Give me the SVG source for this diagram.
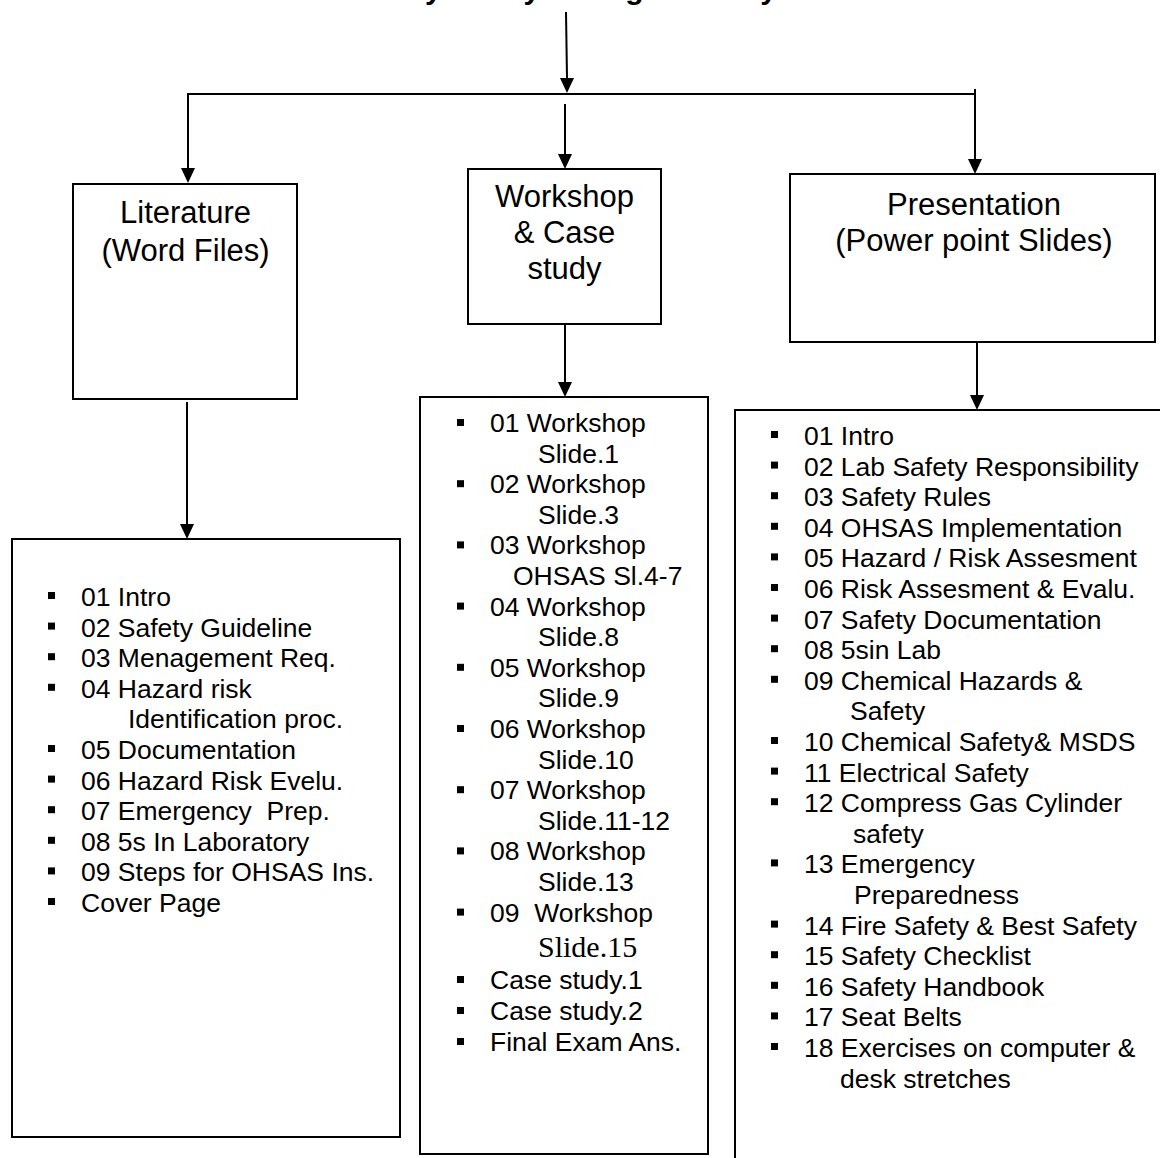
<svg xmlns="http://www.w3.org/2000/svg" width="1160" height="1158" viewBox="0 0 1160 1158">
<style>
.box{fill:#fff;stroke:#000;stroke-width:2}
.con{fill:none;stroke:#000;stroke-width:2}
.hd{font-family:"Liberation Sans",Arial,sans-serif;font-size:31px;text-anchor:middle;fill:#000}
.li{font-family:"Liberation Sans",Arial,sans-serif;font-size:26.5px;fill:#000;white-space:pre}
.tm{font-family:"Liberation Serif","Times New Roman",serif;font-size:30px;fill:#000}
.ttl{font-family:"Liberation Sans",Arial,sans-serif;font-size:30px;font-weight:bold;text-anchor:middle;fill:#000}
.bl{fill:#000}
</style>
<defs>
<marker id="ah" markerWidth="14" markerHeight="15" refX="7" refY="15" orient="auto-start-reverse" markerUnits="userSpaceOnUse" viewBox="0 0 14 15">
<path d="M0,0 L14,0 L7,15 Z" fill="#000" transform="rotate(0)"/>
</marker>
</defs>
<rect width="1160" height="1158" fill="#fff"/>
<text class="ttl" x="566" y="-1">Laboratory Safety Management System</text>

<g id="connectors">
<path class="con" d="M566,12 L567,78"/>
<path d="M560,78 L574,78 L567,93 Z" fill="#000"/>
<path class="con" d="M188,94 L975,94"/>
<path class="con" d="M975,89 L975,160"/>
<path d="M968,159 L982,159 L975,174 Z" fill="#000"/>
<path class="con" d="M188,93 L188,169"/>
<path d="M181,168 L195,168 L188,183 Z" fill="#000"/>
<path class="con" d="M565,104 L565,155"/>
<path d="M558,154 L572,154 L565,169 Z" fill="#000"/>
<path class="con" d="M187,402 L187,525"/>
<path d="M180,524 L194,524 L187,539 Z" fill="#000"/>
<path class="con" d="M565,325 L565,383"/>
<path d="M558,382 L572,382 L565,397 Z" fill="#000"/>
<path class="con" d="M977,343 L977,396"/>
<path d="M970,395 L984,395 L977,410 Z" fill="#000"/>
</g>

<g id="literature">
<rect class="box" x="73" y="184" width="224" height="215"/>
<text class="hd" x="185.5" y="223">Literature</text>
<text class="hd" x="185.5" y="261">(Word Files)</text>
</g>

<g id="workshop">
<rect class="box" x="468" y="169" width="193" height="155"/>
<text class="hd" x="564.5" y="207">Workshop</text>
<text class="hd" x="564.5" y="243">&amp; Case</text>
<text class="hd" x="564.5" y="279">study</text>
</g>

<g id="presentation">
<rect class="box" x="790" y="174" width="365" height="168"/>
<text class="hd" x="974" y="215">Presentation</text>
<text class="hd" x="974" y="251">(Power point Slides)</text>
</g>

<g id="literature-list">
<rect class="box" x="12" y="539" width="388" height="598"/>
<g class="bl">
<rect x="48" y="592" width="7" height="7"/>
<rect x="48" y="622.6" width="7" height="7"/>
<rect x="48" y="653.2" width="7" height="7"/>
<rect x="48" y="683.8" width="7" height="7"/>
<rect x="48" y="745" width="7" height="7"/>
<rect x="48" y="775.6" width="7" height="7"/>
<rect x="48" y="806.2" width="7" height="7"/>
<rect x="48" y="836.8" width="7" height="7"/>
<rect x="48" y="867.4" width="7" height="7"/>
<rect x="48" y="898" width="7" height="7"/>
</g>
<text class="li" x="81" y="606">01 Intro</text>
<text class="li" x="81" y="636.6">02 Safety Guideline</text>
<text class="li" x="81" y="667.2">03 Menagement Req.</text>
<text class="li" x="81" y="697.8">04 Hazard risk</text>
<text class="li" x="128" y="728.4">Identification proc.</text>
<text class="li" x="81" y="759">05 Documentation</text>
<text class="li" x="81" y="789.6">06 Hazard Risk Evelu.</text>
<text class="li" x="81" y="820.2" xml:space="preserve">07 Emergency  Prep.</text>
<text class="li" x="81" y="850.8">08 5s In Laboratory</text>
<text class="li" x="81" y="881.4">09 Steps for OHSAS Ins.</text>
<text class="li" x="81" y="912">Cover Page</text>
</g>

<g id="workshop-list">
<rect class="box" x="420" y="397" width="288" height="757"/>
<g class="bl">
<rect x="457" y="419" width="7" height="7"/>
<rect x="457" y="480.2" width="7" height="7"/>
<rect x="457" y="541.4" width="7" height="7"/>
<rect x="457" y="602.6" width="7" height="7"/>
<rect x="457" y="663.8" width="7" height="7"/>
<rect x="457" y="725" width="7" height="7"/>
<rect x="457" y="786.2" width="7" height="7"/>
<rect x="457" y="847.4" width="7" height="7"/>
<rect x="457" y="908.6" width="7" height="7"/>
<rect x="457" y="976" width="7" height="7"/>
<rect x="457" y="1007" width="7" height="7"/>
<rect x="457" y="1038" width="7" height="7"/>
</g>
<text class="li" x="490" y="432">01 Workshop</text>
<text class="li" x="538" y="462.6">Slide.1</text>
<text class="li" x="490" y="493.2">02 Workshop</text>
<text class="li" x="538" y="523.8">Slide.3</text>
<text class="li" x="490" y="554.4">03 Workshop</text>
<text class="li" x="513" y="585">OHSAS Sl.4-7</text>
<text class="li" x="490" y="615.6">04 Workshop</text>
<text class="li" x="538" y="646.2">Slide.8</text>
<text class="li" x="490" y="676.8">05 Workshop</text>
<text class="li" x="538" y="707.4">Slide.9</text>
<text class="li" x="490" y="738">06 Workshop</text>
<text class="li" x="538" y="768.6">Slide.10</text>
<text class="li" x="490" y="799.2">07 Workshop</text>
<text class="li" x="538" y="829.8">Slide.11-12</text>
<text class="li" x="490" y="860.4">08 Workshop</text>
<text class="li" x="538" y="891">Slide.13</text>
<text class="li" x="490" y="921.6" xml:space="preserve">09  Workshop</text>
<text class="tm" x="538" y="957">Slide.15</text>
<text class="li" x="490" y="989">Case study.1</text>
<text class="li" x="490" y="1020">Case study.2</text>
<text class="li" x="490" y="1051">Final Exam Ans.</text>
</g>

<g id="presentation-list">
<rect class="box" x="735" y="410" width="440" height="780"/>
<g class="bl">
<rect x="771" y="431" width="7" height="7"/>
<rect x="771" y="461.6" width="7" height="7"/>
<rect x="771" y="492.2" width="7" height="7"/>
<rect x="771" y="522.8" width="7" height="7"/>
<rect x="771" y="553.4" width="7" height="7"/>
<rect x="771" y="584" width="7" height="7"/>
<rect x="771" y="614.6" width="7" height="7"/>
<rect x="771" y="645.2" width="7" height="7"/>
<rect x="771" y="675.8" width="7" height="7"/>
<rect x="771" y="737" width="7" height="7"/>
<rect x="771" y="767.6" width="7" height="7"/>
<rect x="771" y="798.2" width="7" height="7"/>
<rect x="771" y="859.4" width="7" height="7"/>
<rect x="771" y="920.6" width="7" height="7"/>
<rect x="771" y="951.2" width="7" height="7"/>
<rect x="771" y="981.8" width="7" height="7"/>
<rect x="771" y="1012.4" width="7" height="7"/>
<rect x="771" y="1043" width="7" height="7"/>
</g>
<text class="li" x="804" y="445">01 Intro</text>
<text class="li" x="804" y="475.6">02 Lab Safety Responsibility</text>
<text class="li" x="804" y="506.2">03 Safety Rules</text>
<text class="li" x="804" y="536.8">04 OHSAS Implementation</text>
<text class="li" x="804" y="567.4">05 Hazard / Risk Assesment</text>
<text class="li" x="804" y="598">06 Risk Assesment &amp; Evalu.</text>
<text class="li" x="804" y="628.6">07 Safety Documentation</text>
<text class="li" x="804" y="659.2">08 5sin Lab</text>
<text class="li" x="804" y="689.8">09 Chemical Hazards &amp;</text>
<text class="li" x="850" y="720.4">Safety</text>
<text class="li" x="804" y="751">10 Chemical Safety&amp; MSDS</text>
<text class="li" x="804" y="781.6">11 Electrical Safety</text>
<text class="li" x="804" y="812.2">12 Compress Gas Cylinder</text>
<text class="li" x="853" y="842.8">safety</text>
<text class="li" x="804" y="873.4">13 Emergency</text>
<text class="li" x="854" y="904">Preparedness</text>
<text class="li" x="804" y="934.6">14 Fire Safety &amp; Best Safety</text>
<text class="li" x="804" y="965.2">15 Safety Checklist</text>
<text class="li" x="804" y="995.8">16 Safety Handbook</text>
<text class="li" x="804" y="1026.4">17 Seat Belts</text>
<text class="li" x="804" y="1057">18 Exercises on computer &amp;</text>
<text class="li" x="840" y="1087.6">desk stretches</text>
</g>
</svg>
